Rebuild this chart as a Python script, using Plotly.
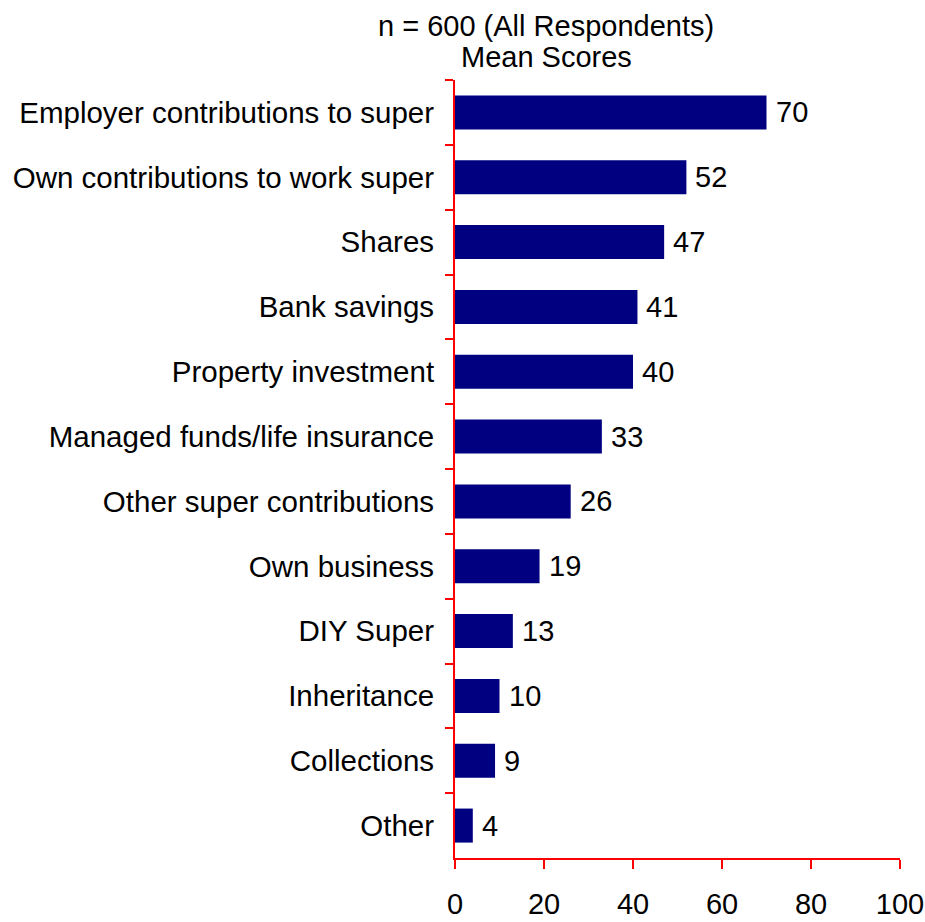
import plotly.graph_objects as go

# Mean scores by source of retirement funding (top to bottom)
categories = [
    "Employer contributions to super",
    "Own contributions to work super",
    "Shares",
    "Bank savings",
    "Property investment",
    "Managed funds/life insurance",
    "Other super contributions",
    "Own business",
    "DIY Super",
    "Inheritance",
    "Collections",
    "Other",
]
mean_scores = [70, 52, 47, 41, 40, 33, 26, 19, 13, 10, 9, 4]
x_ticks = [0, 20, 40, 60, 80, 100]
title_lines = ["n = 600 (All Respondents)", "Mean Scores"]

FONT = "Liberation Sans, Arial, sans-serif"
FS = 29
NAVY = "#000080"
RED = "#ff0000"

fig = go.Figure(
    go.Bar(
        x=mean_scores,
        y=categories,
        orientation="h",
        marker=dict(color=NAVY, line=dict(width=0)),
        hoverinfo="skip",
    )
)

# value labels just right of each bar
for cat, val in zip(categories, mean_scores):
    fig.add_annotation(
        x=val, y=cat, xref="x", yref="y",
        text=str(val), showarrow=False,
        xanchor="left", yanchor="middle", xshift=7,
        font=dict(family=FONT, size=FS, color="#000000"),
    )

# two-line heading above the plot, left of the plot's centre
for i, line in enumerate(title_lines):
    fig.add_annotation(
        x=0.2045, y=1, xref="paper", yref="paper",
        text=line, showarrow=False,
        xanchor="center", yanchor="middle",
        yshift=54 - 31 * i,
        font=dict(family=FONT, size=FS, color="#000000"),
    )

# short axis-line extensions past the origin
fig.add_shape(type="line", xref="x", x0=0, x1=0,
              yref="paper", ysizemode="pixel", yanchor=0, y0=-10, y1=0,
              line=dict(color=RED, width=2))
fig.add_shape(type="line", yref="paper", y0=0, y1=0,
              xref="x", xsizemode="pixel", xanchor=0, x0=-8, x1=0,
              line=dict(color=RED, width=2))

fig.update_layout(
    width=925, height=922,
    margin=dict(l=455, r=25, t=80, b=64, autoexpand=False),
    paper_bgcolor="white", plot_bgcolor="white",
    bargap=0.475,
    showlegend=False,
    font=dict(family=FONT, size=FS, color="#000000"),
    xaxis=dict(
        range=[0, 100], tickvals=x_ticks, ticktext=[str(t) for t in x_ticks],
        showgrid=False, zeroline=False,
        showline=True, linecolor=RED, linewidth=2,
        ticks="outside", ticklen=9, tickwidth=2, tickcolor=RED,
        ticklabelstandoff=10,
        automargin=False,
        tickfont=dict(family=FONT, size=FS, color="#000000"),
        fixedrange=True,
    ),
    yaxis=dict(
        autorange="reversed",
        showgrid=False, zeroline=False,
        showline=True, linecolor=RED, linewidth=2,
        ticks="outside", ticklen=8, tickwidth=2, tickcolor=RED,
        tickson="boundaries",
        ticklabelstandoff=13,
        automargin=False,
        tickfont=dict(family=FONT, size=29.5, color="#000000"),
        fixedrange=True,
    ),
)

fig.write_html("out.html")
